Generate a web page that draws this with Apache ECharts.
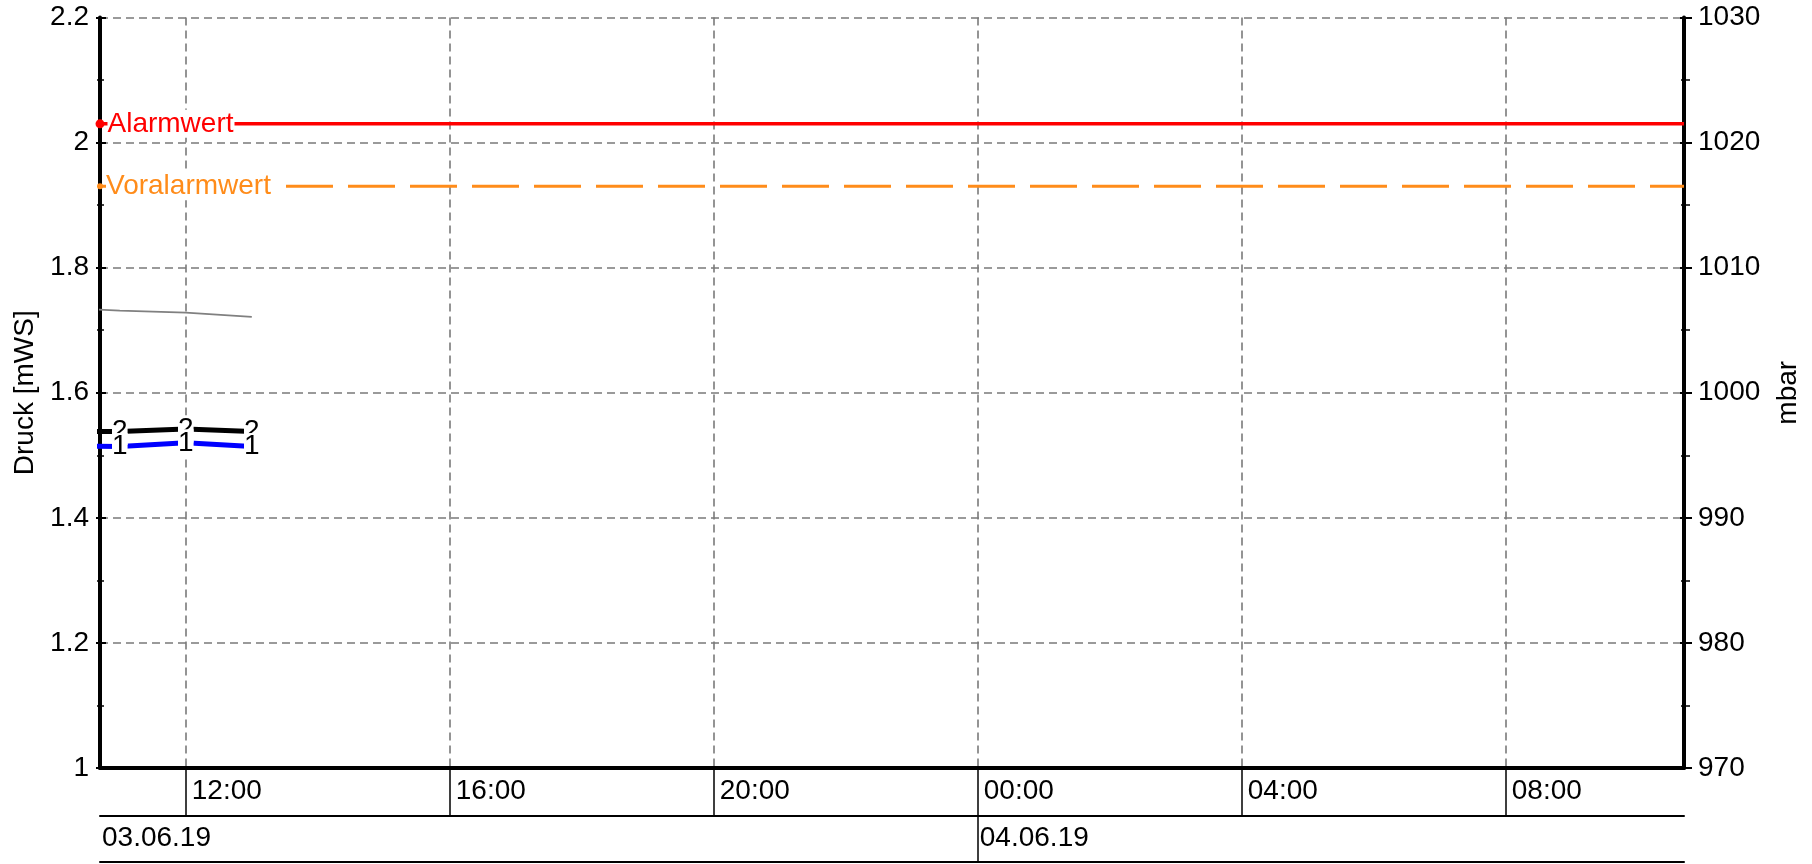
<!DOCTYPE html>
<html><head><meta charset="utf-8">
<script src="https://cdn.jsdelivr.net/npm/echarts@6/dist/echarts.min.js"></script>
<style>html,body{margin:0;padding:0;background:#fff}#c{width:1812px;height:864px}</style>
</head><body><div id="c"></div>
<script>
// ---- data ----
const WINDOW_START = '2019-06-03T10:42:00Z';
const WINDOW_END = '2019-06-04T10:42:00Z';
const HOUR_TICKS = ['2019-06-03T12:00:00Z', '2019-06-03T16:00:00Z', '2019-06-03T20:00:00Z',
                    '2019-06-04T00:00:00Z', '2019-06-04T04:00:00Z', '2019-06-04T08:00:00Z'];
const DAY_TICKS = ['2019-06-04T00:00:00Z'];
const DAY_LABELS = [WINDOW_START, '2019-06-04T00:00:00Z'];
const TIMES = ['2019-06-03T10:00:00Z', '2019-06-03T11:00:00Z', '2019-06-03T12:00:00Z', '2019-06-03T13:00:00Z'];
const SENSOR_2 = [1.538, 1.538, 1.542, 1.538];      // mWS, black, label "2"
const SENSOR_1 = [1.515, 1.514, 1.520, 1.514];      // mWS, blue, label "1"
const AIR_MBAR = [1006.85, 1006.56, 1006.40, 1006.06]; // mbar, grey
const ALARM = 2.03;
const PREALARM = 1.93;
const LEFT_RANGE = [1, 2.2, 0.2];
const RIGHT_RANGE = [970, 1030, 10];
const LEFT_NAME = 'Druck [mWS]';
const RIGHT_NAME = 'mbar';

// ---- helpers ----
const ms = s => Date.parse(s);
const p2 = n => String(n).padStart(2, '0');
const fmtHour = v => { const d = new Date(v); return p2(d.getUTCHours()) + ':' + p2(d.getUTCMinutes()); };
const fmtDay = v => { const d = new Date(v); return p2(d.getUTCDate()) + '.' + p2(d.getUTCMonth() + 1) + '.' + String(d.getUTCFullYear()).slice(2); };
const t0 = ms(WINDOW_START), t1 = ms(WINDOW_END);
const FONT = 'Liberation Sans, Arial, Helvetica, sans-serif';
const FS = 28;

const chart = echarts.init(document.getElementById('c'), null, {renderer: 'canvas'});
const blackLine = {color: '#000', width: 4};
const gridLine = {show: true, lineStyle: {color: '#7a7a7a', width: 1.6, type: [8, 5]}};

function refLine(name, value, color, width, dash, dot) {
  return {
    type: 'line', name, xAxisIndex: 0, yAxisIndex: 0, silent: true, z: 3,
    data: [
      {value: [t0, value], symbol: 'circle', symbolSize: dot,
       label: {show: true, position: 'right', distance: 3, formatter: name, color, fontSize: FS,
               fontFamily: FONT, backgroundColor: '#fff', padding: [0, 1, 0, 0]}},
      {value: [t1, value], symbol: 'none'}
    ],
    itemStyle: {color},
    lineStyle: {color, width, type: dash}
  };
}
function sensor(name, vals, color, labelText) {
  return {
    type: 'line', name, xAxisIndex: 0, yAxisIndex: 0, silent: true, z: 4,
    data: TIMES.map((t, i) => [ms(t), vals[i]]),
    symbol: 'circle', symbolSize: 1, showSymbol: true,
    itemStyle: {color},
    lineStyle: {color, width: 5},
    label: {show: true, position: 'inside', formatter: labelText, color: '#000', fontSize: FS,
            fontFamily: FONT, backgroundColor: '#fff', lineHeight: 27}
  };
}

chart.setOption({
  animation: false,
  backgroundColor: '#fff',
  textStyle: {fontFamily: FONT},
  grid: {left: 100, right: 128, top: 17.5, bottom: 96, containLabel: false},
  xAxis: [
    {type: 'value', min: t0, max: t1, position: 'bottom',
     axisLine: {show: true, onZero: false, lineStyle: blackLine},
     axisTick: {show: true, customValues: HOUR_TICKS.map(ms), length: 48, lineStyle: {color: '#000', width: 1.5}},
     axisLabel: {show: true, customValues: HOUR_TICKS.map(ms), formatter: fmtHour, color: '#000', fontSize: FS,
                 fontFamily: FONT, align: 'left', margin: 9, padding: [0, 0, 0, 6]},
     splitLine: gridLine},
    {type: 'value', min: t0, max: t1, position: 'bottom', offset: 48,
     axisLine: {show: true, onZero: false, lineStyle: {color: '#000', width: 2}},
     axisTick: {show: true, customValues: DAY_TICKS.map(ms), length: 46, lineStyle: {color: '#000', width: 1.5}},
     axisLabel: {show: true, customValues: DAY_LABELS.map(ms), formatter: fmtDay, color: '#000', fontSize: FS,
                 fontFamily: FONT, align: 'left', margin: 8, padding: [0, 0, 0, 2]},
     splitLine: {show: false}},
    {type: 'value', min: t0, max: t1, position: 'bottom', offset: 94,
     axisLine: {show: true, onZero: false, lineStyle: {color: '#000', width: 2}},
     axisTick: {show: false}, axisLabel: {show: false}, splitLine: {show: false}}
  ],
  yAxis: [
    {type: 'value', position: 'left', min: LEFT_RANGE[0], max: LEFT_RANGE[1], interval: LEFT_RANGE[2],
     name: LEFT_NAME, nameLocation: 'middle', nameGap: 57,
     nameTextStyle: {color: '#000', fontSize: FS, fontFamily: FONT},
     axisLine: {show: true, lineStyle: blackLine},
     axisTick: {show: true, inside: false, length: 4, lineStyle: {color: '#000', width: 2}},
     minorTick: {show: true, splitNumber: 2, length: 3, lineStyle: {color: '#000', width: 1.5}},
     axisLabel: {color: '#000', fontSize: FS, fontFamily: FONT, margin: 11},
     splitLine: gridLine},
    {type: 'value', position: 'right', min: RIGHT_RANGE[0], max: RIGHT_RANGE[1], interval: RIGHT_RANGE[2],
     name: RIGHT_NAME, nameLocation: 'middle', nameGap: 90,
     nameTextStyle: {color: '#000', fontSize: FS, fontFamily: FONT},
     axisLine: {show: true, lineStyle: blackLine},
     axisTick: {show: true, inside: false, length: 8, lineStyle: {color: '#000', width: 2}},
     minorTick: {show: true, splitNumber: 2, length: 6, lineStyle: {color: '#000', width: 1.5}},
     axisLabel: {color: '#000', fontSize: FS, fontFamily: FONT, margin: 14, formatter: v => String(v)},
     splitLine: {show: false}},
    {type: 'value', position: 'left', min: LEFT_RANGE[0], max: LEFT_RANGE[1], interval: LEFT_RANGE[2],
     axisLine: {show: false},
     axisTick: {show: true, inside: true, length: 6, lineStyle: {color: '#000', width: 2}},
     minorTick: {show: true, splitNumber: 2, length: 4, lineStyle: {color: '#000', width: 1.5}},
     axisLabel: {show: false}, splitLine: {show: false}},
    {type: 'value', position: 'right', min: RIGHT_RANGE[0], max: RIGHT_RANGE[1], interval: RIGHT_RANGE[2],
     axisLine: {show: false},
     axisTick: {show: true, inside: true, length: 4, lineStyle: {color: '#000', width: 2}},
     minorTick: {show: true, splitNumber: 2, length: 3, lineStyle: {color: '#000', width: 1.5}},
     axisLabel: {show: false}, splitLine: {show: false}}
  ],
  series: [
    refLine('Alarmwert', ALARM, '#ff0000', 3.5, 'solid', 9),
    refLine('Voralarmwert', PREALARM, '#ff8c1a', 3, [47, 15], 6),
    {type: 'line', name: 'Luftdruck', xAxisIndex: 0, yAxisIndex: 1, silent: true, z: 2,
     data: TIMES.map((t, i) => [ms(t), AIR_MBAR[i]]),
     symbol: 'none', lineStyle: {color: '#808080', width: 1.8}},
    sensor('Sensor 2', SENSOR_2, '#000000', '2'),
    sensor('Sensor 1', SENSOR_1, '#0000ff', '1')
  ]
});
</script>
</body></html>
